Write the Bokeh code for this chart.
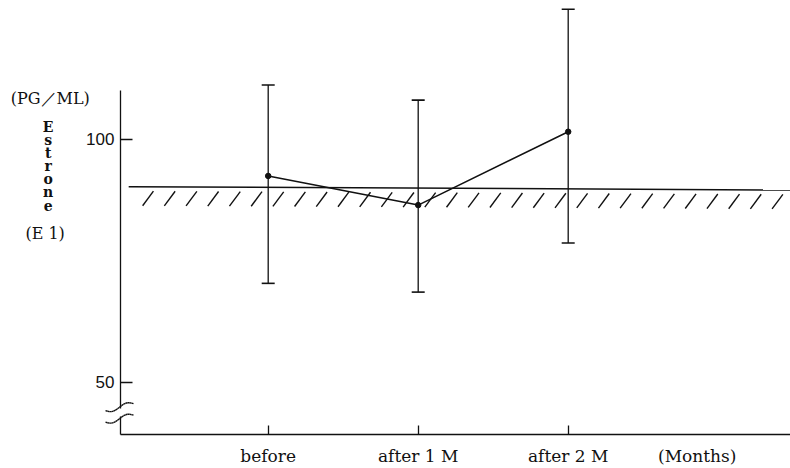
import numpy as np
from bokeh.plotting import figure
from bokeh.models import (ColumnDataSource, Whisker, TeeHead, FixedTicker, Label,
                          LinearAxis, Range1d, Arrow)
from bokeh.embed import file_html
from bokeh.resources import INLINE

# ---- data ----
categories = ["before", "after 1 M", "after 2 M"]
x_pos = [1, 2, 3]
means = [92.5, 86.5, 101.6]
upper = [111.2, 108.1, 126.8]
lower = [70.4, 68.6, 78.7]
ref_x = [0.07, 4.49]          # normal-level reference line
ref_y = [90.3, 89.6]
y_ticks = [50, 100]
unit_label = "(Months)"
unit_pos = 3.86

INK = "#111111"
SERIF = "DejaVu Serif"

W, H = 790, 468
PX_X, X_ORIGIN = 150.0, 117.7      # pixels per x unit, pixel of x = 0
PX_Y = 4.86                         # pixels per y unit
AXIS_X = 0.015                      # data x of the y axis
AXIS_Y = 39.3                       # data y of the x axis
X0, X1 = -X_ORIGIN / PX_X, (W - X_ORIGIN) / PX_X
Y0 = AXIS_Y - (H - 434) / PX_Y
Y1 = AXIS_Y + 434 / PX_Y

p = figure(width=W, height=H, output_backend="svg", toolbar_location=None,
           x_range=Range1d(X0, X1), y_range=Range1d(Y0, Y1),
           min_border_left=0, min_border_right=0, min_border_top=0,
           min_border_bottom=0, outline_line_color=None,
           background_fill_color="white", border_fill_color="white")
p.xgrid.visible = False
p.ygrid.visible = False

# x axis
xa = p.xaxis[0]
xa.fixed_location = AXIS_Y
xa.bounds = (AXIS_X, X1)
xa.ticker = FixedTicker(ticks=x_pos)
xa.major_label_overrides = {x: c for x, c in zip(x_pos, categories)}
xa.major_tick_in = 9
xa.major_tick_out = 0
xa.minor_tick_line_color = None
xa.axis_line_width = 1.3
xa.axis_line_color = INK
xa.major_tick_line_color = INK
xa.major_tick_line_width = 1.3
xa.major_label_text_font = SERIF
xa.major_label_text_font_size = "17px"
xa.major_label_text_color = INK
xa.major_label_standoff = 11

# y axis (upper part, above the break)
ya = p.yaxis[0]
ya.fixed_location = AXIS_X
ya.ticker = FixedTicker(ticks=y_ticks)
ya.bounds = (44.7, 110.1)
ya.major_tick_in = 12
ya.major_tick_out = 0
ya.minor_tick_line_color = None
ya.axis_line_width = 1.3
ya.axis_line_color = INK
ya.major_tick_line_color = INK
ya.major_tick_line_width = 1.3
ya.major_label_text_font = "Liberation Sans"
ya.major_label_text_font_size = "17px"
ya.major_label_text_color = INK
ya.major_label_standoff = 6

# y axis lower stub below the break
ya2 = LinearAxis(bounds=(AXIS_Y, 43.1), ticker=FixedTicker(ticks=[]),
                 major_label_text_font_size="0px", axis_line_width=1.3,
                 axis_line_color=INK, minor_tick_line_color=None,
                 major_tick_line_color=None, fixed_location=AXIS_X)
p.add_layout(ya2, "left")

# reference line with hatching below
p.line(ref_x, ref_y, line_width=1.5, color=INK)
hx = np.arange(0.235, X1, 0.1447)
hy = np.interp(hx, ref_x, ref_y) - 0.9
p.segment(x0=hx, y0=hy, x1=hx - 0.072, y1=hy - 3.0, line_width=1.4, color=INK)

# error bars
src = ColumnDataSource(dict(x=x_pos, lower=lower, upper=upper, mean=means))
p.add_layout(Whisker(base="x", lower="lower", upper="upper", source=src,
                     dimension="height", line_color=INK, line_width=1.3,
                     upper_head=TeeHead(size=13, line_color=INK, line_width=1.6),
                     lower_head=TeeHead(size=13, line_color=INK, line_width=1.6)))

# mean line and points
p.line("x", "mean", source=src, line_width=1.5, color=INK)
p.scatter("x", "mean", source=src, size=5.5, color=INK)

# axis texts
def lab(x, y, t, size="16px", font=SERIF, **kw):
    p.add_layout(Label(x=x, y=y, text=t, text_font=font, text_font_size=size,
                       text_color=INK, text_align="center",
                       text_baseline="middle", **kw))

lab(-0.453, 108.4, "(PG／ML)")
lab(-0.467, 94.5, "E\ns\nt\nr\no\nn\ne", size="14px", text_line_height=0.82,
    text_font_style="bold")
lab(-0.487, 80.7, "(E 1)")
lab(unit_pos, AXIS_Y - 21.5 / PX_Y, unit_label, size="17px")

# axis-break strokes
t = np.linspace(-1, 1, 15)
for yc_px in (407.0, 418.5):
    xs = (119 + 14 * t - X_ORIGIN) / PX_X
    ys_px = yc_px - 3.5 * t - 2.5 * np.sin(np.pi * t)
    ys = 100 - (ys_px - 139.3) / PX_Y
    bs = ColumnDataSource(dict(x0=xs[:-1], y0=ys[:-1], x1=xs[1:], y1=ys[1:]))
    p.add_layout(Arrow(x_start="x0", y_start="y0", x_end="x1", y_end="y1",
                       source=bs, end=None, line_color=INK, line_width=1.4))

open("out.html", "w").write(file_html(p, INLINE))
